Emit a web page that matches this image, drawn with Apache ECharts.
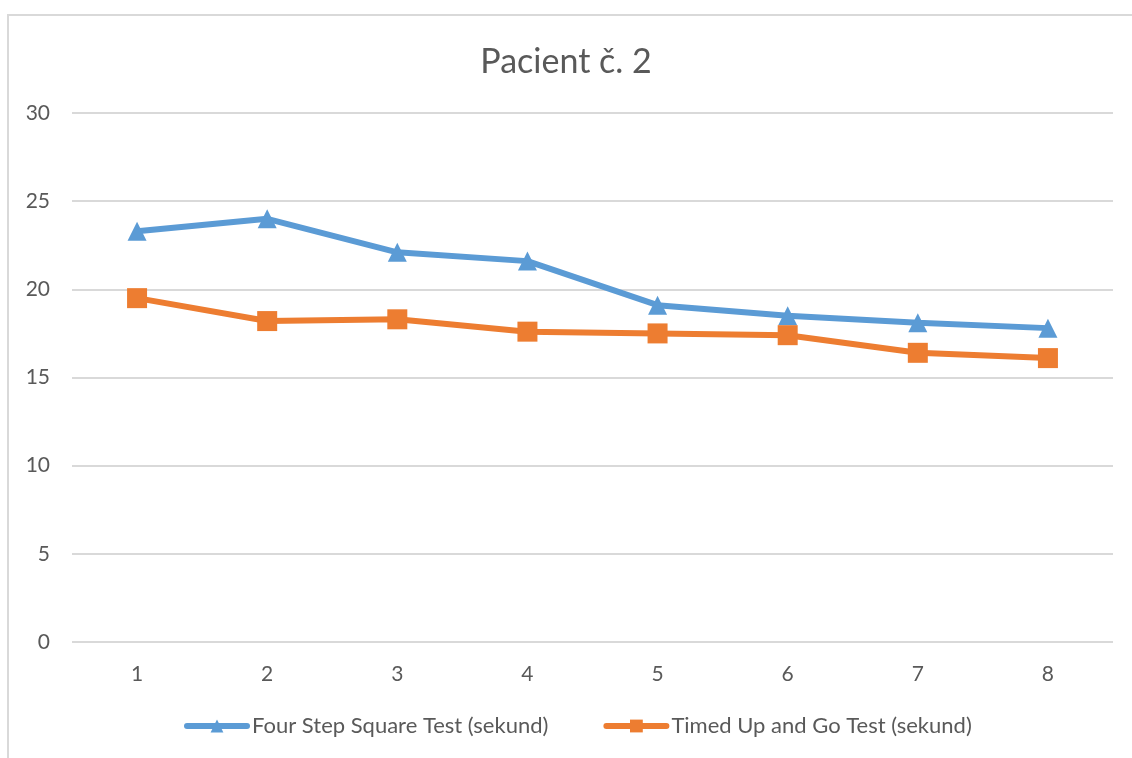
<!DOCTYPE html>
<html>
<head>
<meta charset="utf-8">
<title>Pacient č. 2</title>
<script src="https://cdn.jsdelivr.net/npm/echarts@6/dist/echarts.min.js"></script>
<style>
  html, body { margin: 0; padding: 0; background: #fff; overflow: hidden; }
  #chart { position: absolute; left: 0; top: 0; width: 1132px; height: 758px; }
  #frame { position: absolute; left: 7px; top: 14px; width: 1200px; height: 800px;
           border-left: 2px solid #d9d9d9; border-top: 2px solid #d9d9d9; pointer-events: none; }
</style>
</head>
<body>
<div id="chart"></div>
<div id="frame"></div>
<script>
const categories = ['1', '2', '3', '4', '5', '6', '7', '8']
const fourStepSquare = [23.3, 24.0, 22.1, 21.6, 19.1, 18.5, 18.1, 17.8]
const timedUpAndGo = [19.5, 18.2, 18.3, 17.6, 17.5, 17.4, 16.4, 16.1]
const seriesNames = ['Four Step Square Test (sekund)', 'Timed Up and Go Test (sekund)']

const fontFamily = 'Lato, "Open Sans", sans-serif'
const textColor = '#595959'

const chart = echarts.init(document.getElementById('chart'))

chart.setOption({
  animation: false,
  textStyle: { fontFamily: fontFamily },
  title: {
    text: 'Pacient č. 2',
    left: 'center',
    top: 40,
    textStyle: { fontFamily: fontFamily, fontSize: 34, fontWeight: 'normal', color: textColor }
  },
  grid: {
    left: 72,
    right: 19,
    top: 113,
    bottom: 116
  },
  legend: {
    bottom: 16,
    left: 179,
    itemWidth: 60,
    itemHeight: 16,
    itemGap: 55,
    lineStyle: { width: 6, cap: 'round' },
    textStyle: { fontFamily: fontFamily, fontSize: 22, color: textColor },
    data: seriesNames
  },
  xAxis: {
    type: 'category',
    data: categories,
    boundaryGap: true,
    axisLine: { show: false },
    axisTick: { show: false },
    axisLabel: { color: textColor, fontSize: 21, margin: 22 }
  },
  yAxis: {
    type: 'value',
    min: 0,
    max: 30,
    interval: 5,
    axisLine: { show: false },
    axisTick: { show: false },
    axisLabel: { color: textColor, fontSize: 21, margin: 22 },
    splitLine: { lineStyle: { color: '#d9d9d9', width: 2 } }
  },
  series: [
    {
      name: seriesNames[0],
      type: 'line',
      data: fourStepSquare,
      symbol: 'triangle',
      symbolSize: 19,
      itemStyle: { color: '#5B9BD5' },
      lineStyle: { color: '#5B9BD5', width: 6 }
    },
    {
      name: seriesNames[1],
      type: 'line',
      data: timedUpAndGo,
      symbol: 'rect',
      symbolSize: 20,
      itemStyle: { color: '#ED7D31' },
      lineStyle: { color: '#ED7D31', width: 6 }
    }
  ]
})
</script>
</body>
</html>
